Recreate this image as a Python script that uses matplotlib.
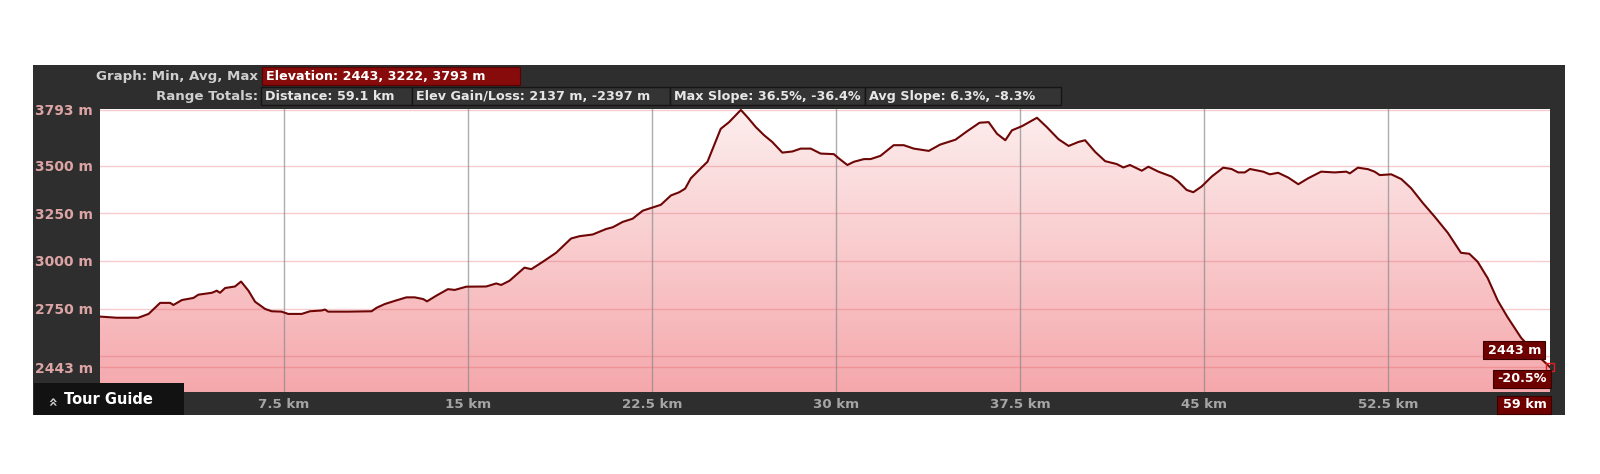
import numpy as np
import matplotlib.pyplot as plt
from matplotlib.patches import Rectangle
from matplotlib.colors import LinearSegmentedColormap

# elevation profile (km, m)
distance_km = [0.0, 0.68, 1.56, 1.98, 2.45, 2.86, 2.99, 3.34, 3.81, 4.01, 4.56, 4.76, 4.89, 5.10, 5.50,
               5.75, 6.05, 6.32, 6.73, 7.0, 7.4, 7.67, 8.22, 8.56, 9.03, 9.17, 9.3, 10.11, 11.07, 11.27,
               11.61, 12.0, 12.49, 12.83, 13.17, 13.33, 13.71, 14.18, 14.46, 14.93, 15.74, 16.15, 16.35,
               16.69, 17.3, 17.58, 18.05, 18.59, 19.2, 19.54, 20.08, 20.63, 20.9, 21.3, 21.71, 22.12,
               22.52, 22.86, 23.27, 23.61, 23.85, 24.08, 24.42, 24.76, 25.03, 25.3, 25.64, 26.12, 26.39,
               26.73, 27.07, 27.4, 27.81, 28.22, 28.56, 28.97, 29.37, 29.91, 30.12, 30.46, 30.73, 31.14,
               31.41, 31.81, 32.35, 32.76, 33.17, 33.78, 34.24, 34.87, 35.34, 35.85, 36.22, 36.56, 36.9,
               37.17, 37.58, 38.19, 38.59, 39.07, 39.48, 39.88, 40.15, 40.56, 40.97, 41.44, 41.71, 41.98,
               42.46, 42.73, 43.14, 43.68, 43.95, 44.29, 44.56, 44.9, 45.31, 45.78, 46.12, 46.39, 46.66,
               46.87, 47.41, 47.68, 48.02, 48.43, 48.84, 49.24, 49.77, 50.32, 50.8, 50.94, 51.27, 51.68,
               51.95, 52.16, 52.63, 53.04, 53.44, 53.92, 54.39, 54.94, 55.47, 55.81, 56.15, 56.56, 56.97,
               57.37, 57.92, 58.5, 59.1]
elevation_m = [2708, 2702, 2702, 2722, 2780, 2780, 2769, 2795, 2806, 2823, 2833, 2844, 2833, 2858, 2866,
               2892, 2844, 2786, 2748, 2736, 2734, 2722, 2722, 2736, 2740, 2745, 2734, 2734, 2736, 2754,
               2774, 2790, 2809, 2809, 2800, 2788, 2818, 2852, 2848, 2865, 2866, 2882, 2874,
               2896, 2965, 2957, 2996, 3043, 3118, 3130, 3139, 3168, 3177, 3205, 3222, 3264,
               3281, 3295, 3344, 3361, 3380, 3434, 3478, 3521, 3608, 3694, 3729, 3793, 3755,
               3703, 3660, 3625, 3569, 3575, 3590, 3590, 3564, 3561, 3538, 3504, 3521, 3535,
               3535, 3552, 3608, 3608, 3590, 3578, 3611, 3637, 3681, 3726, 3729, 3668, 3634,
               3686, 3708, 3752, 3703, 3639, 3604, 3625, 3634, 3573, 3524, 3509, 3491, 3504,
               3474, 3495, 3469, 3443, 3417, 3373, 3361, 3391, 3443, 3490, 3483, 3465, 3465,
               3483, 3469, 3455, 3463, 3438, 3403, 3434, 3469, 3465, 3469, 3460, 3490, 3482,
               3469, 3451, 3455, 3430, 3382, 3304, 3234, 3147, 3043, 3038, 2996, 2910, 2792,
               2705, 2597, 2515, 2443]

y_ticks = [2443, 2750, 3000, 3250, 3500, 3793]
y_ticklabels = ['2443 m', '2750 m', '3000 m', '3250 m', '3500 m', '3793 m']
x_ticks = [7.5, 15, 22.5, 30, 37.5, 45, 52.5]
x_ticklabels = ['7.5 km', '15 km', '22.5 km', '30 km', '37.5 km', '45 km', '52.5 km']

header1_label = 'Graph: Min, Avg, Max'
header1_box = 'Elevation: 2443, 3222, 3793 m'
header2_label = 'Range Totals:'
header2_boxes = ['Distance: 59.1 km', 'Elev Gain/Loss: 2137 m, -2397 m',
                 'Max Slope: 36.5%, -36.4%', 'Avg Slope: 6.3%, -8.3%']
end_labels = ['2443 m', '-20.5%', '59 km']

W, H = 1600, 474
fig = plt.figure(figsize=(16, 4.74), dpi=100)
fig.patch.set_facecolor('white')

# background panel in pixel coords
bg = fig.add_axes([0, 0, 1, 1], zorder=0)
bg.set_xlim(0, W)
bg.set_ylim(H, 0)
bg.axis('off')
bg.add_patch(Rectangle((33, 65), 1532, 350, facecolor='#2e2e2e', edgecolor='none'))

fs = 9.6
box_fs = 9.2
bg.text(258, 76, header1_label, color='#cfcfcf', fontsize=fs, fontweight='bold', ha='right', va='center')
bg.add_patch(Rectangle((262, 67), 258, 18, facecolor='#870b0b', edgecolor='#5a0000', lw=0.8))
bg.text(266, 76, header1_box, color='white', fontsize=box_fs, fontweight='bold', ha='left', va='center')
bg.text(258, 96, header2_label, color='#cfcfcf', fontsize=fs, fontweight='bold', ha='right', va='center')
box_edges = [261, 412, 670, 865, 1061]
for i, txt in enumerate(header2_boxes):
    x0, x1 = box_edges[i], box_edges[i + 1]
    bg.add_patch(Rectangle((x0, 87), x1 - x0, 18, facecolor='#343434', edgecolor='#151515', lw=1))
    bg.text(x0 + 4, 96, txt, color='#e6e6e6', fontsize=box_fs, fontweight='bold', ha='left', va='center')

# elevation plot
ax = fig.add_axes([100 / W, 82 / H, 1450 / W, 283 / H], zorder=1)
ax.set_facecolor('white')
ax.set_xlim(0, 59.1)
ax.set_ylim(2312, 3798)

x = np.array(distance_km)
y = np.array(elevation_m)
poly = ax.fill_between(x, y, 2312, facecolor='none', edgecolor='none')
cmap = LinearSegmentedColormap.from_list('pink', ['#f5a8ac', '#fdeeee'])
grad = ax.imshow(np.linspace(0, 1, 256).reshape(-1, 1), cmap=cmap, aspect='auto',
                 extent=[0, 59.1, 2312, 3798], origin='lower', zorder=1)
grad.set_clip_path(poly.get_paths()[0], transform=ax.transData)

for v in y_ticks + [2500]:
    ax.axhline(v, color='#e05a60', alpha=0.3, lw=1, zorder=2)
for v in x_ticks:
    ax.axvline(v, color='#8a8a8a', alpha=0.7, lw=1, zorder=2)

ax.plot(x, y, color='#6e0606', lw=1.5, zorder=3)
ax.plot(x[-1], y[-1], marker='s', ms=6, mfc='none', mec='#e02020', mew=1, clip_on=False, zorder=4)

ax.set_yticks(y_ticks)
ax.set_yticklabels(y_ticklabels, color='#dca4a4', fontsize=10, fontweight='bold', ha='left')
ax.set_xticks(x_ticks)
ax.set_xticklabels(x_ticklabels, color='#a5a5a5', fontsize=fs, fontweight='bold')
ax.tick_params(axis='y', length=0, pad=47)
ax.tick_params(axis='x', length=0, pad=4)
for s in ax.spines.values():
    s.set_visible(False)

# overlay: tour guide and end-point labels
ov = fig.add_axes([0, 0, 1, 1], zorder=5)
ov.set_xlim(0, W)
ov.set_ylim(H, 0)
ov.axis('off')
ov.patch.set_alpha(0)
ov.add_patch(Rectangle((34, 383), 150, 32, facecolor='#121212', edgecolor='none'))
ov.text(53, 400, '»', rotation=90, color='#cccccc', fontsize=11, fontweight='bold', ha='center', va='center')
ov.text(64, 400, 'Tour Guide', color='white', fontsize=10.5, fontweight='bold', ha='left', va='center')

end_boxes = [(1483, 341, 62), (1493, 370, 58), (1497, 396, 54)]
for (bx, by, bw), txt in zip(end_boxes, end_labels):
    ov.add_patch(Rectangle((bx, by), bw, 18, facecolor='#6e0000', edgecolor='#3a0000', lw=0.8))
    ov.text(bx + bw - 4, by + 9, txt, color='white', fontsize=box_fs, fontweight='bold', ha='right', va='center')

fig.savefig('out.png', dpi=100)
